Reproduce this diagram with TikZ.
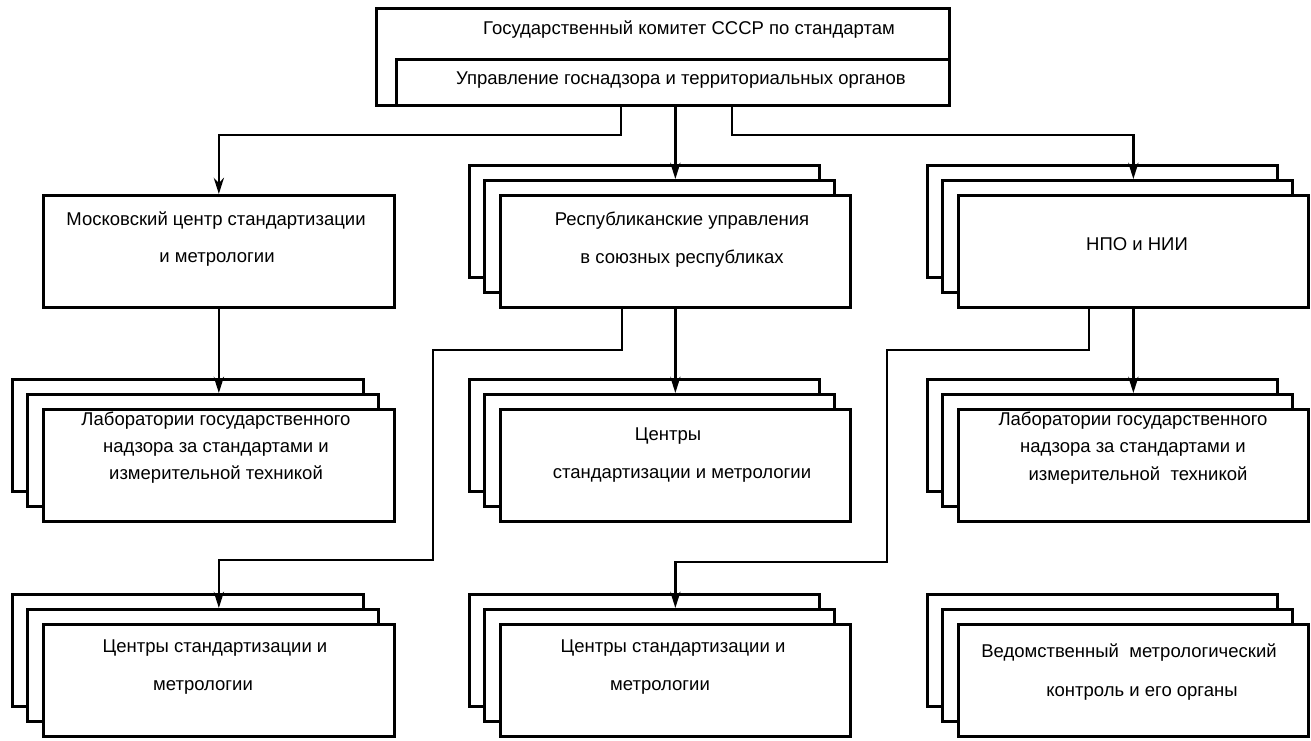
\documentclass[tikz,border=0pt]{standalone}
\usepackage{fontspec}
\setmainfont{Liberation Sans}
\usetikzlibrary{arrows.meta}

% three stacked cards: name, left x, top y, width, height of the front card
\newcommand\cardstack[5]{%
  \node[card, minimum width=#4pt, minimum height=#5pt] (#1-a) at ({#2-31},{#3-30}) {};
  \node[card, minimum width=#4pt, minimum height=#5pt] (#1-b) at ({#2-16},{#3-15}) {};
  \node[card, minimum width=#4pt, minimum height=#5pt] (#1) at (#2,#3) {};
}

\begin{document}
\begin{tikzpicture}[x=1pt,y=-1pt,
  card/.style={draw, fill=white, line width=2.7pt, rectangle, inner sep=0pt, anchor=north west},
  lbl/.style={inner sep=0pt, font=\fontsize{18.5}{22}\selectfont, text height=0.72em, text depth=0.2em},
  link/.style={line width=2.7pt},
  arr/.style={link, -{Stealth[length=16pt,width=10pt,inset=5pt]}}
]
\useasboundingbox[fill=white] (0,0) rectangle (1311,741);

% committee and its department
\node[card, minimum width=573pt, minimum height=97pt] (gk) at (375,7) {};
\node[card, minimum width=553pt, minimum height=46pt] (ug) at (395,58) {};
\node[lbl] (gk-t) at (689,32) {Государственный комитет СССР по стандартам};
\node[lbl] (ug-t) at (681,82) {Управление госнадзора и территориальных органов};

% first row
\node[card, minimum width=351pt, minimum height=112pt] (mos) at (42,194) {};
\node[lbl] (mos-t1) at (216,223) {Московский центр стандартизации};
\node[lbl] (mos-t2) at (217,260) {и метрологии};

\cardstack{rep}{499}{194}{350}{112}
\node[lbl] (rep-t1) at (682,223) {Республиканские управления};
\node[lbl] (rep-t2) at (682,261) {в союзных республиках};

\cardstack{npo}{957}{194}{350}{112}
\node[lbl] (npo-t) at (1137,248) {НПО и НИИ};

% second row
\cardstack{labL}{42}{408}{351}{112}
\node[lbl] (labL-t1) at (216,423) {Лаборатории государственного};
\node[lbl] (labL-t2) at (216,450) {надзора за стандартами и};
\node[lbl] (labL-t3) at (216,477) {измерительной техникой};

\cardstack{cenM}{499}{408}{350}{112}
\node[lbl] (cenM-t1) at (668,438) {Центры};
\node[lbl] (cenM-t2) at (682,476) {стандартизации и метрологии};

\cardstack{labR}{957}{408}{350}{112}
\node[lbl] (labR-t1) at (1133,423) {Лаборатории государственного};
\node[lbl] (labR-t2) at (1133,450) {надзора за стандартами и};
\node[lbl] (labR-t3) at (1138,478) {измерительной\ \ техникой};

% third row
\cardstack{cenL}{42}{623}{351}{112}
\node[lbl] (cenL-t1) at (215,650) {Центры стандартизации и};
\node[lbl] (cenL-t2) at (203,688) {метрологии};

\cardstack{cenC}{499}{623}{350}{112}
\node[lbl] (cenC-t1) at (673,650) {Центры стандартизации и};
\node[lbl] (cenC-t2) at (660,688) {метрологии};

\cardstack{ved}{957}{623}{350}{112}
\node[lbl] (ved-t1) at (1129,655) {Ведомственный\ \ метрологический};
\node[lbl] (ved-t2) at (1142,694) {контроль и его органы};

% bend points of the connectors
\coordinate (jL) at (621,135);
\coordinate (jR) at (732,135);
\coordinate (rA) at (622,350);
\coordinate (rB) at (433,350);
\coordinate (rC) at (433,560);
\coordinate (nA) at (1089,350);
\coordinate (nB) at (887,350);
\coordinate (nC) at (887,562);

% connectors
\draw[arr] (ug.south -| jL) -- (jL) -| (mos.north);
\draw[arr] (ug.south -| rep.north) -- (rep.north |- rep-b.north);
\draw[arr] (ug.south -| jR) -- (jR) -| (npo.north |- npo-b.north);

\draw[arr] (mos.south) -- (labL.north |- labL-b.north);
\draw[arr] (rep.south) -- (cenM.north |- cenM-b.north);
\draw[arr] (npo.south) -- (labR.north |- labR-b.north);

\draw[arr] (rep.south -| rA) -- (rA) -- (rB) -- (rC) -| (cenL.north |- cenL-b.north);
\draw[arr] (npo.south -| nA) -- (nA) -- (nB) -- (nC) -| (cenC.north |- cenC-b.north);
\end{tikzpicture}
\end{document}
